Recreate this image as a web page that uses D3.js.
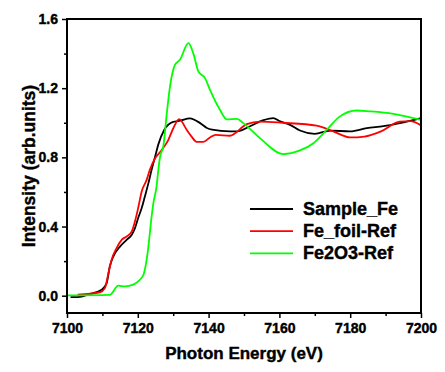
<!DOCTYPE html>
<html>
<head>
<meta charset="utf-8">
<script src="https://cdn.jsdelivr.net/npm/d3@7"></script>
<style>
  body { margin: 0; background: #fff; }
  svg { display: block; font-family: "Liberation Sans", Arial, sans-serif; }
</style>
</head>
<body>
<svg width="445" height="372"></svg>
<script>
// constants
const WIDTH = 445;
const HEIGHT = 372;
const M = { left: 67, right: 24, top: 19, bottom: 59 };

// data
const sampleE = [7101, 7103, 7106.5, 7109.8, 7111.2, 7112.1, 7113.1, 7115, 7116.9, 7118.3, 7119.2, 7120.1, 7121.1, 7122, 7123, 7123.9, 7124.9, 7125.8, 7127.5, 7130, 7132, 7134.7, 7137.6, 7139.5, 7141, 7146, 7148, 7151.7, 7155.5, 7158.3, 7160, 7163, 7165.8, 7170, 7174.4, 7180, 7184.7, 7189.4, 7194, 7200];
const sampleI = [-0.008, -0.008, 0.01, 0.035, 0.073, 0.17, 0.227, 0.285, 0.324, 0.353, 0.39, 0.449, 0.507, 0.574, 0.651, 0.728, 0.805, 0.875, 0.96, 1.005, 1.012, 1.025, 0.998, 0.97, 0.96, 0.95, 0.95, 0.98, 1.015, 1.027, 1.01, 0.988, 0.955, 0.936, 0.955, 0.95, 0.969, 0.98, 0.998, 1.027];

const foilE = [7103, 7109.3, 7110.7, 7111.7, 7112.6, 7114, 7115.5, 7116.9, 7118.3, 7119.2, 7120.1, 7121.1, 7122.5, 7123.4, 7124.9, 7126.5, 7127.2, 7128.6, 7130, 7131.7, 7133.8, 7135.2, 7136.6, 7138.5, 7140.4, 7142, 7146, 7150.8, 7154.5, 7161, 7170.5, 7175.2, 7180, 7184, 7188.7, 7194, 7197, 7200];
const foilI = [0.006, 0.02, 0.044, 0.13, 0.208, 0.275, 0.324, 0.343, 0.372, 0.43, 0.507, 0.603, 0.67, 0.728, 0.795, 0.835, 0.855, 0.9, 0.967, 1.021, 0.96, 0.92, 0.89, 0.89, 0.915, 0.93, 0.925, 0.992, 1.007, 1.0, 0.983, 0.95, 0.915, 0.92, 0.95, 1.007, 1.01, 0.985];

const oxideE = [7100, 7112.1, 7114.5, 7116.4, 7118.7, 7120.1, 7121.6, 7122.5, 7123, 7123.4, 7123.9, 7124.4, 7125.3, 7125.8, 7126.3, 7127.2, 7128.2, 7129.1, 7130.5, 7131.9, 7134.3, 7135.7, 7137.1, 7139, 7140.4, 7143.2, 7145.1, 7148, 7149.8, 7154.5, 7161.1, 7165.8, 7169.6, 7173.4, 7177.1, 7181.8, 7185.6, 7192.2, 7200];
const oxideI = [0.002, 0.005, 0.058, 0.054, 0.064, 0.083, 0.121, 0.208, 0.285, 0.362, 0.458, 0.536, 0.632, 0.728, 0.805, 0.863, 1.056, 1.21, 1.335, 1.364, 1.46, 1.40, 1.297, 1.258, 1.19, 1.075, 1.02, 1.023, 0.998, 0.911, 0.819, 0.84, 0.882, 0.96, 1.037, 1.071, 1.066, 1.052, 1.017];

const seriesNames = ['Sample_Fe', 'Fe_foil-Ref', 'Fe2O3-Ref'];
const seriesColors = ['#000000', '#ff0000', '#00ff00'];

const xTicks = [7100, 7120, 7140, 7160, 7180, 7200];
const xMinor = [7110, 7130, 7150, 7170, 7190];
const yTicks = [0.0, 0.4, 0.8, 1.2, 1.6];
const yMinor = [0.2, 0.6, 1.0, 1.4];

const series = [
  { name: seriesNames[0], color: seriesColors[0], pts: sampleE.map((e, i) => [e, sampleI[i]]) },
  { name: seriesNames[1], color: seriesColors[1], pts: foilE.map((e, i) => [e, foilI[i]]) },
  { name: seriesNames[2], color: seriesColors[2], pts: oxideE.map((e, i) => [e, oxideI[i]]) }
];

const svg = d3.select('svg');

const x = d3.scaleLinear().domain([7100, 7200]).range([M.left, WIDTH - M.right]);
const y = d3.scaleLinear().domain([-0.1, 1.6]).range([HEIGHT - M.bottom, M.top]);

// curves
const line = d3.line()
  .x(d => x(d[0]))
  .y(d => y(d[1]))
  .curve(d3.curveMonotoneX);

svg.append('g')
  .selectAll('path')
  .data(series).join('path')
  .attr('fill', 'none')
  .attr('stroke', d => d.color)
  .attr('stroke-width', 1.8)
  .attr('stroke-linejoin', 'round')
  .attr('d', d => line(d.pts));

// axes
const xAxis = svg.append('g')
  .attr('transform', `translate(0,${HEIGHT - M.bottom})`)
  .call(d3.axisBottom(x).tickValues(xTicks).tickSize(5).tickPadding(5).tickFormat(d3.format('d')));
const xAxisMinor = svg.append('g')
  .attr('transform', `translate(0,${HEIGHT - M.bottom})`)
  .call(d3.axisBottom(x).tickValues(xMinor).tickSize(3).tickFormat(''));

const yAxis = svg.append('g')
  .attr('transform', `translate(${M.left},0)`)
  .call(d3.axisLeft(y).tickValues(yTicks).tickSize(5).tickPadding(4).tickFormat(d3.format('.1f')));
const yAxisMinor = svg.append('g')
  .attr('transform', `translate(${M.left},0)`)
  .call(d3.axisLeft(y).tickValues(yMinor).tickSize(3).tickFormat(''));

[xAxis, xAxisMinor, yAxis, yAxisMinor].forEach(g => {
  g.select('.domain').remove();
  g.selectAll('line').attr('stroke', '#000').attr('stroke-width', 1.5);
  g.selectAll('text')
    .attr('fill', '#000')
    .attr('stroke', '#000')
    .attr('stroke-width', 0.4)
    .attr('font-size', 14)
    .attr('font-weight', 'bold')
    .attr('font-family', '"Liberation Sans", Arial, sans-serif');
});

// frame
svg.append('rect')
  .attr('x', M.left)
  .attr('y', M.top)
  .attr('width', WIDTH - M.left - M.right)
  .attr('height', HEIGHT - M.top - M.bottom)
  .attr('fill', 'none')
  .attr('stroke', '#000')
  .attr('stroke-width', 2);

// titles
svg.append('text')
  .attr('x', (M.left + WIDTH - M.right) / 2)
  .attr('y', 359)
  .attr('text-anchor', 'middle')
  .attr('font-size', 17)
  .attr('font-weight', 'bold')
  .attr('stroke', '#000')
  .attr('stroke-width', 0.4)
  .text('Photon Energy (eV)');

svg.append('text')
  .attr('transform', `translate(35,${(M.top + HEIGHT - M.bottom) / 2}) rotate(-90)`)
  .attr('text-anchor', 'middle')
  .attr('font-size', 17.5)
  .attr('font-weight', 'bold')
  .attr('stroke', '#000')
  .attr('stroke-width', 0.4)
  .text('Intensity (arb.units)');

// legend
const legend = svg.append('g').attr('transform', 'translate(250,209)');
const item = legend.selectAll('g')
  .data(series).join('g')
  .attr('transform', (d, i) => `translate(0,${i * 22.2})`);
item.append('line')
  .attr('x1', 0).attr('x2', 43)
  .attr('stroke', d => d.color)
  .attr('stroke-width', 1.8);
item.append('text')
  .attr('x', 53)
  .attr('y', 6)
  .attr('font-size', 18)
  .attr('font-weight', 'bold')
  .attr('stroke', '#000')
  .attr('stroke-width', 0.4)
  .text(d => d.name);
</script>
</body>
</html>
